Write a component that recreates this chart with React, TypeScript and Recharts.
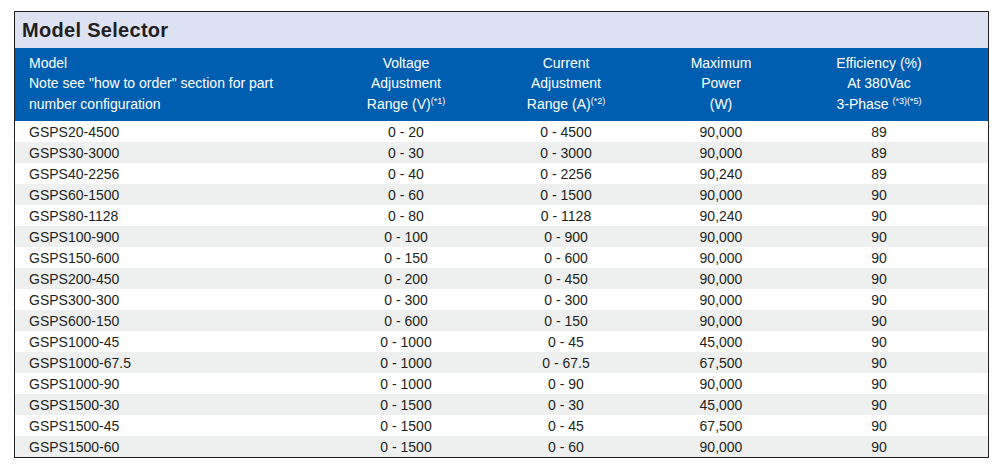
import React from 'react';
import { BarChart, Bar, XAxis, YAxis, Cell, LabelList } from 'recharts';

const models = [
  'GSPS20-4500', 'GSPS30-3000', 'GSPS40-2256', 'GSPS60-1500', 'GSPS80-1128',
  'GSPS100-900', 'GSPS150-600', 'GSPS200-450', 'GSPS300-300', 'GSPS600-150',
  'GSPS1000-45', 'GSPS1000-67.5', 'GSPS1000-90', 'GSPS1500-30', 'GSPS1500-45', 'GSPS1500-60',
];
const voltageRanges = [
  '0 - 20', '0 - 30', '0 - 40', '0 - 60', '0 - 80',
  '0 - 100', '0 - 150', '0 - 200', '0 - 300', '0 - 600',
  '0 - 1000', '0 - 1000', '0 - 1000', '0 - 1500', '0 - 1500', '0 - 1500',
];
const currentRanges = [
  '0 - 4500', '0 - 3000', '0 - 2256', '0 - 1500', '0 - 1128',
  '0 - 900', '0 - 600', '0 - 450', '0 - 300', '0 - 150',
  '0 - 45', '0 - 67.5', '0 - 90', '0 - 30', '0 - 45', '0 - 60',
];
const maxPower = [
  '90,000', '90,000', '90,240', '90,000', '90,240',
  '90,000', '90,000', '90,000', '90,000', '90,000',
  '45,000', '67,500', '90,000', '45,000', '67,500', '90,000',
];
const efficiency = [
  '89', '89', '89', '90', '90',
  '90', '90', '90', '90', '90',
  '90', '90', '90', '90', '90', '90',
];

const rows = models.map((m, i) => ({
  model: m,
  voltage: voltageRanges[i],
  current: currentRanges[i],
  power: maxPower[i],
  eff: efficiency[i],
  band: 1,
}));

const FONT = '"Liberation Sans", Arial, Helvetica, sans-serif';
const TEXT = '#231f20';
const BLUE = '#005eb0';
const STRIPE = '#eef0ef';

// column anchors, relative to inner left edge of the box
const MODEL_X = 14;
const COL_X = { voltage: 391, current: 551, power: 706, eff: 864 };

const makeLabel = (offset: number, anchor: 'start' | 'middle') => (props: any) => {
  const { x, y, height, value } = props;
  return (
    <text
      x={Number(x) + offset}
      y={Number(y) + Number(height) / 2 + 5}
      textAnchor={anchor}
      fontFamily={FONT}
      fontSize={14}
      fill={TEXT}
    >
      {value}
    </text>
  );
};

const sup: React.CSSProperties = { fontSize: 9, position: 'relative', top: -5 };

const headerCol = (center: number, lines: React.ReactNode[]) => (
  <div
    style={{
      position: 'absolute',
      left: center - 100,
      width: 200,
      top: 4.5,
      textAlign: 'center',
      lineHeight: '20.5px',
    }}
  >
    {lines.map((l, i) => (
      <div key={i}>{l}</div>
    ))}
  </div>
);

export default function App() {
  return (
    <div
      style={{
        position: 'absolute',
        left: 14,
        top: 11,
        width: 975,
        height: 447,
        boxSizing: 'border-box',
        border: `1px solid ${TEXT}`,
        fontFamily: FONT,
        background: '#fff',
      }}
    >
      <div
        style={{
          height: 36,
          lineHeight: '36px',
          background: '#dde2f3',
          color: TEXT,
          fontWeight: 'bold',
          fontSize: 20,
          letterSpacing: 0.3,
          paddingLeft: 7,
        }}
      >
        Model Selector
      </div>
      <div
        style={{
          position: 'relative',
          height: 73,
          background: BLUE,
          color: '#fff',
          fontSize: 14,
        }}
      >
        <div style={{ position: 'absolute', left: MODEL_X, top: 4.5, lineHeight: '20.5px' }}>
          <div>Model</div>
          <div>Note see "how to order" section for part</div>
          <div>number configuration</div>
        </div>
        {headerCol(COL_X.voltage, [
          'Voltage',
          'Adjustment',
          <span>Range (V)<span style={sup}>(*1)</span></span>,
        ])}
        {headerCol(COL_X.current, [
          'Current',
          'Adjustment',
          <span>Range (A)<span style={sup}>(*2)</span></span>,
        ])}
        {headerCol(COL_X.power, ['Maximum', 'Power', '(W)'])}
        {headerCol(COL_X.eff, [
          'Efficiency (%)',
          'At 380Vac',
          <span>3-Phase <span style={sup}>(*3)(*5)</span></span>,
        ])}
      </div>
      <BarChart
        width={973}
        height={336}
        data={rows}
        layout="vertical"
        margin={{ top: 0, right: 0, bottom: 0, left: 0 }}
        barCategoryGap={0}
        barGap={0}
        style={{ display: 'block' }}
      >
        <XAxis type="number" domain={[0, 1]} hide />
        <YAxis type="category" dataKey="model" hide />
        <Bar dataKey="band" isAnimationActive={false}>
          {rows.map((_, i) => (
            <Cell key={i} fill={i % 2 === 0 ? '#ffffff' : STRIPE} />
          ))}
          <LabelList dataKey="model" content={makeLabel(MODEL_X, 'start')} />
          <LabelList dataKey="voltage" content={makeLabel(COL_X.voltage, 'middle')} />
          <LabelList dataKey="current" content={makeLabel(COL_X.current, 'middle')} />
          <LabelList dataKey="power" content={makeLabel(COL_X.power, 'middle')} />
          <LabelList dataKey="eff" content={makeLabel(COL_X.eff, 'middle')} />
        </Bar>
      </BarChart>
    </div>
  );
}
